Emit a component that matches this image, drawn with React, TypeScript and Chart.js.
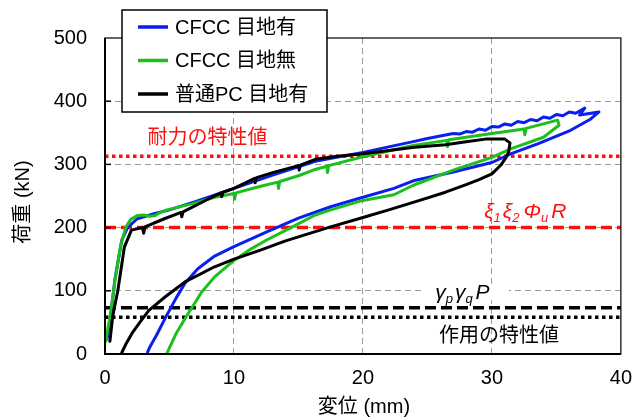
import React, { useEffect, useRef } from "react";
import { Chart, registerables } from "chart.js";
Chart.register(...registerables);

// ---- axes ----
const xMin = 0, xMax = 40, xStep = 10;
const yMin = 0, yMax = 500, yStep = 100;
const xTitle = "変位 (mm)";
const yTitle = "荷重 (kN)";

// ---- series ----
const seriesLabels = ["CFCC 目地有", "CFCC 目地無", "普通PC 目地有"];
const seriesColors = ["#0a1ef0", "#1cbf1c", "#000000"];

const blueX = [0.08, 0.2, 0.5, 0.76, 1.3, 1.75, 2.5, 3.8, 5, 7, 10, 13, 16.3, 20, 23.9, 25, 26, 27, 27.5, 28, 28.5, 29, 29.5, 30, 30.5, 31, 31.5, 32, 32.5, 33, 33.5, 34, 34.5, 35, 35.5, 36, 36.5, 37.2, 36.8, 38.3, 37.6, 36.1, 33.6, 31.5, 30, 27, 23.9, 22.4, 20, 17.5, 15, 12.5, 10, 8.5, 7.2, 6.2, 5.5, 4.7, 4.0, 3.5, 3.3];
const blueY = [22, 27, 70, 117, 180, 200, 214, 222, 228, 241, 262, 283, 305, 319, 336, 341, 345, 349, 348, 352, 351, 356, 354, 360, 359, 364, 362, 368, 366, 371, 369, 375, 373, 379, 377, 383, 381, 389, 378, 383, 371, 354, 333, 317, 303, 288, 274, 262, 248, 233, 215, 193, 170, 155, 135, 112, 88, 58, 30, 12, 3];

const greenX = [0.05, 0.4, 0.8, 1.2, 1.6, 2.0, 2.5, 3.0, 3.5, 3.9, 4.2, 4.8, 6.8, 8.5, 10, 10.05, 10.15, 12, 13.4, 13.45, 13.55, 15, 16.3, 17.2, 17.25, 17.35, 20, 23.9, 26.5, 26.55, 26.65, 30, 32.5, 32.55, 32.65, 35.1, 35.2, 34, 31.5, 30, 27, 23.9, 22.4, 20, 17.5, 16.3, 14.8, 12.5, 11.3, 10, 8.5, 7.5, 6.45, 5.5, 4.8];
const greenY = [20, 60, 120, 170, 200, 213, 219, 220, 218, 219, 223, 228, 238, 248, 254, 245, 255, 265, 272, 262, 273, 282, 292, 297, 287, 298, 312, 330, 338, 328, 339, 349, 356, 347, 357, 370, 362, 343, 325, 311, 291, 267, 252, 243, 228, 220, 204, 180, 166, 148, 122, 98, 64, 32, 1];

const blackX = [0.38, 0.6, 1.0, 1.5, 2.05, 2.9, 3.0, 3.1, 4.6, 5.9, 5.95, 6.05, 8.1, 9.0, 9.05, 9.15, 10, 11.6, 11.65, 11.75, 13, 15, 15.05, 15.15, 16.3, 18, 20, 22, 24, 26.4, 28, 29.5, 31, 31.4, 31.3, 31.1, 30.7, 30, 29, 28, 26.4, 24.4, 22, 20, 17.3, 14, 12, 10, 8.5, 6.2, 4.7, 3.4, 2.7, 2.1, 1.6, 1.3];
const blackY = [20, 60, 101, 169, 196, 200, 191, 201, 214, 224, 217, 225, 246, 255, 249, 256, 262, 278, 271, 279, 287, 298, 291, 299, 308, 313, 317, 322, 327, 331, 336, 340, 340, 334, 320, 311, 299, 285, 276, 268, 256, 243, 228, 216, 200, 179, 164, 150, 138, 114, 91, 69, 50, 33, 15, 2];

// ---- reference levels ----
const refLabels = ["耐力の特性値", "ξ1ξ2ΦuR", "γpγqP", "作用の特性値"];
const refValues = [313, 200, 73, 58];
const refColors = ["#ff1010", "#ff1010", "#000000", "#000000"];

const FONT = "'Liberation Sans', Arial, 'Noto Sans CJK JP', sans-serif";

function drawRich(ctx: CanvasRenderingContext2D, parts: [string, boolean, number][], x: number, y: number) {
  let cx = x;
  for (const [t, sub, gap] of parts) {
    ctx.font = sub ? `italic 13px ${FONT}` : `italic 21px ${FONT}`;
    ctx.fillText(t, cx, sub ? y + 6 : y);
    cx += ctx.measureText(t).width + gap;
  }
  return cx;
}

const overlay = {
  id: "overlay",
  beforeDatasetsDraw(chart: any) {
    const { ctx, scales } = chart;
    const x = scales.x, y = scales.y;
    ctx.save();
    ctx.fillStyle = "#fff";
    const yc = y.getPixelForValue(96);
    ctx.fillRect(x.getPixelForValue(24.5), yc - 9, x.getPixelForValue(31.3) - x.getPixelForValue(24.5), 16);
    ctx.restore();
  },
  afterDatasetsDraw(chart: any) {
    const { ctx, chartArea: a, scales } = chart;
    const x = scales.x, y = scales.y;
    ctx.save();
    ctx.strokeStyle = "#000";
    ctx.lineWidth = 1.2;
    ctx.strokeRect(a.left, a.top, a.right - a.left, a.bottom - a.top);
    ctx.lineWidth = 2;
    ctx.beginPath();
    ctx.moveTo(a.left, a.top);
    ctx.lineTo(a.left, a.bottom);
    ctx.lineTo(a.right, a.bottom);
    ctx.stroke();
    ctx.lineWidth = 1.5;
    for (let v = yMin + yStep; v < yMax; v += yStep) {
      const py = y.getPixelForValue(v);
      ctx.beginPath();
      ctx.moveTo(a.left, py);
      ctx.lineTo(a.left + 6, py);
      ctx.stroke();
    }

    ctx.textBaseline = "middle";
    ctx.textAlign = "left";
    ctx.fillStyle = refColors[0];
    ctx.font = `20px ${FONT}`;
    ctx.fillText(refLabels[0], x.getPixelForValue(3.3), y.getPixelForValue(341));

    ctx.fillStyle = refColors[1];
    drawRich(ctx, [["ξ", false, 0], ["1", true, 2], ["ξ", false, 0], ["2", true, 4], ["Φ", false, 0], ["u", true, 3], ["R", false, 0]],
      x.getPixelForValue(29.4), y.getPixelForValue(224));

    ctx.fillStyle = refColors[2];
    drawRich(ctx, [["γ", false, 0], ["p", true, 2], ["γ", false, 0], ["q", true, 3], ["P", false, 0]],
      x.getPixelForValue(25.6), y.getPixelForValue(96));

    ctx.fillStyle = refColors[3];
    ctx.font = `20px ${FONT}`;
    ctx.fillText(refLabels[3], x.getPixelForValue(25.9), y.getPixelForValue(28));

    ctx.fillStyle = "#000";
    ctx.font = `20px ${FONT}`;
    ctx.textAlign = "center";
    ctx.fillText(xTitle, (a.left + a.right) / 2 + 1, 407);
    ctx.save();
    ctx.translate(23, 202);
    ctx.rotate(-Math.PI / 2);
    ctx.fillText(yTitle, 0, 0);
    ctx.restore();

    const lx = a.left + 17, ly = 10, lw = 205, lh = 102;
    ctx.fillStyle = "#fff";
    ctx.fillRect(lx, ly, lw, lh);
    ctx.strokeStyle = "#000";
    ctx.lineWidth = 1.5;
    ctx.strokeRect(lx, ly, lw, lh);
    ctx.textAlign = "left";
    ctx.font = `20px ${FONT}`;
    seriesLabels.forEach((lab, i) => {
      const ry = ly + 17 + i * 33.5;
      ctx.strokeStyle = seriesColors[i];
      ctx.lineWidth = 3.5;
      ctx.beginPath();
      ctx.moveTo(lx + 16, ry);
      ctx.lineTo(lx + 46, ry);
      ctx.stroke();
      ctx.fillStyle = "#000";
      ctx.fillText(lab, lx + 53, ry + 1);
    });
    ctx.restore();
  },
};

function pts(xs: number[], ys: number[]) {
  return xs.map((v, i) => ({ x: v, y: ys[i] }));
}

export default function App() {
  const ref = useRef<HTMLCanvasElement>(null);
  useEffect(() => {
    const refDash = [[3.5, 3.5], [11, 5], [11, 5], [3.5, 3.5]];
    const refSets = refValues.map((v, i) => ({
      label: refLabels[i],
      data: [{ x: xMin, y: v }, { x: xMax, y: v }],
      borderColor: refColors[i],
      borderWidth: 3.5,
      borderDash: refDash[i],
      pointRadius: 0,
      order: 5,
    }));
    const curves = [pts(blueX, blueY), pts(greenX, greenY), pts(blackX, blackY)].map((d, i) => ({
      label: seriesLabels[i],
      data: d,
      borderColor: seriesColors[i],
      borderWidth: 3,
      pointRadius: 0,
      tension: 0,
      borderJoinStyle: "round" as const,
      borderCapStyle: "round" as const,
      order: 2 - i,
    }));
    const chart = new Chart(ref.current!, {
      type: "line",
      data: { datasets: [...curves, ...refSets] as any },
      options: {
        animation: false,
        responsive: true,
        maintainAspectRatio: false,
        layout: { padding: { left: 0, right: 12, top: 38, bottom: 0 } },
        plugins: { legend: { display: false }, tooltip: { enabled: false } },
        scales: {
          x: {
            type: "linear",
            min: xMin,
            max: xMax,
            ticks: { stepSize: xStep, color: "#000", font: { family: FONT, size: 20 }, padding: 12 },
            grid: { color: (c: any) => (c.tick && (c.tick.value === xMin || c.tick.value === xMax) ? "rgba(0,0,0,0)" : "#9a9a9a"), lineWidth: 1, drawTicks: false },
            border: { display: false, dash: [6, 4] },
            afterFit: (s: any) => { s.height = 64; },
          },
          y: {
            type: "linear",
            min: yMin,
            max: yMax,
            ticks: { stepSize: yStep, color: "#000", font: { family: FONT, size: 20 }, padding: 18 },
            grid: { color: (c: any) => (c.tick && (c.tick.value === yMin || c.tick.value === yMax) ? "rgba(0,0,0,0)" : "#9a9a9a"), lineWidth: 1, drawTicks: false },
            border: { display: false, dash: [6, 4] },
            afterFit: (s: any) => { s.width = 105; },
          },
        },
      },
      plugins: [overlay],
    });
    return () => chart.destroy();
  }, []);
  return (
    <div style={{ position: "fixed", left: 0, top: 0, width: 644, height: 418, background: "#fff" }}>
      <canvas ref={ref} />
    </div>
  );
}
